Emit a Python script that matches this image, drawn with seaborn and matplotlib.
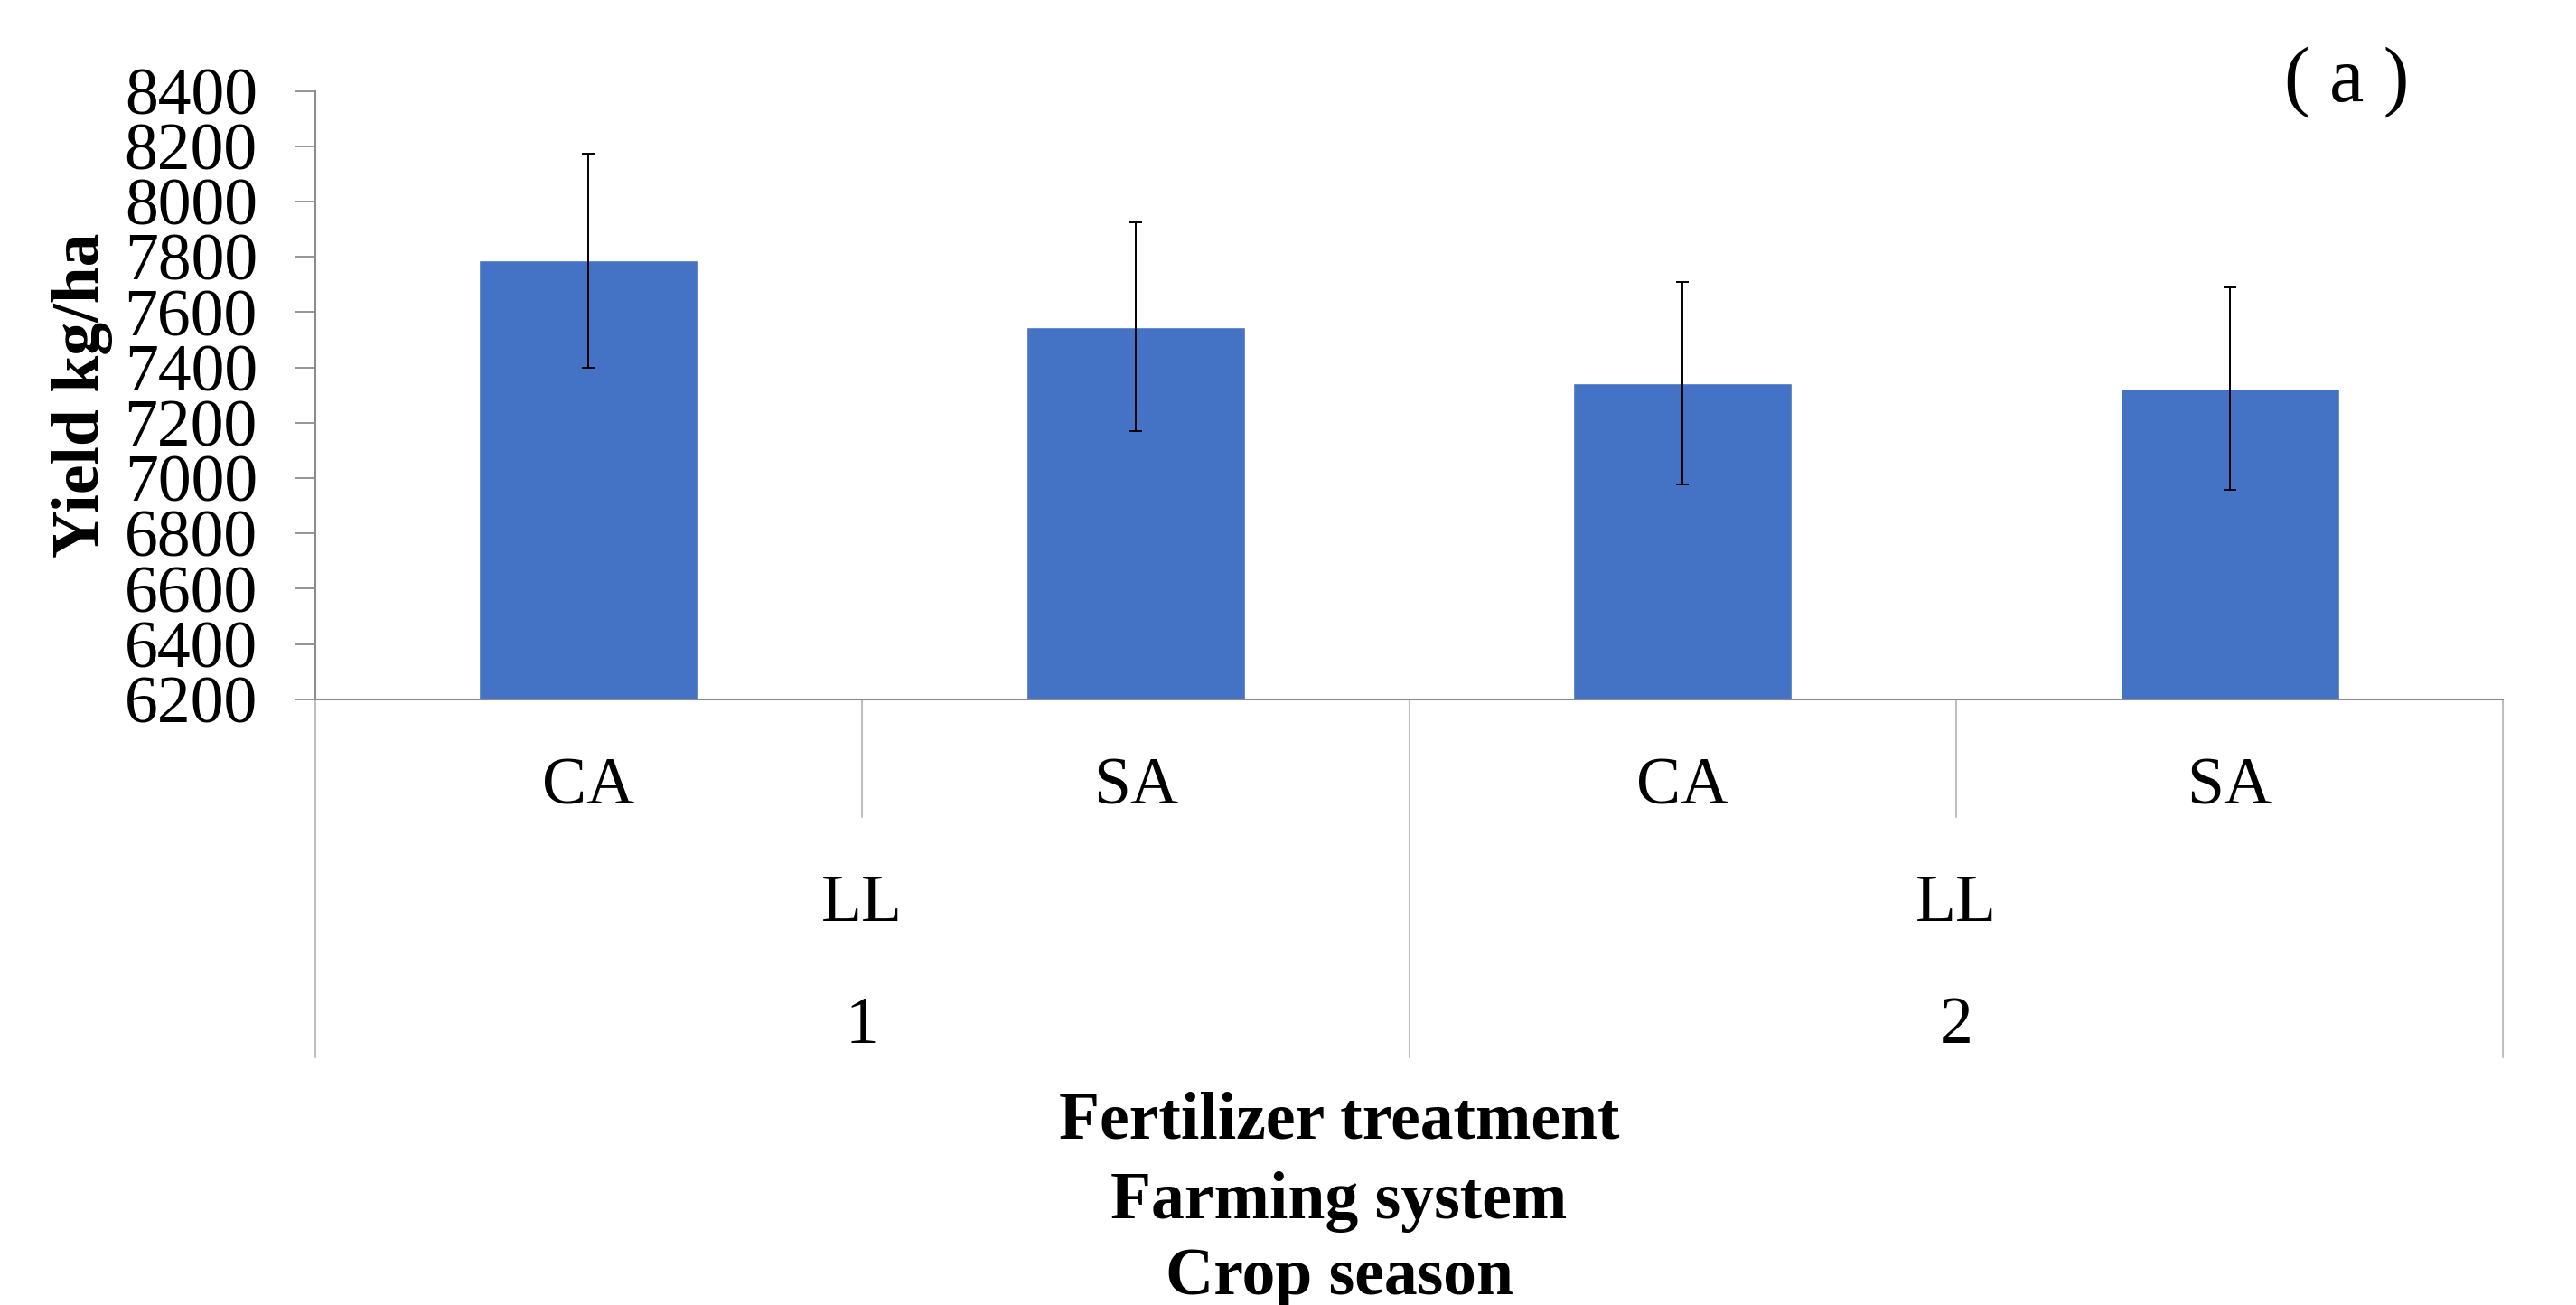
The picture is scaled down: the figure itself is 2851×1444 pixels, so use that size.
import matplotlib
matplotlib.use("Agg")
import matplotlib.pyplot as plt
import pandas as pd
import seaborn as sns
from matplotlib.lines import Line2D
from matplotlib.transforms import blended_transform_factory

# Grain yield by fertilizer treatment, farming system and crop season
treatment = ["CA", "SA", "CA", "SA"]
farming_system = ["LL", "LL", "LL", "LL"]
crop_season = ["1", "1", "2", "2"]
yield_mean = [7787, 7547, 7343, 7323]
yield_err = [388, 378, 367, 366]
y_ticks = [6200, 6400, 6600, 6800, 7000, 7200, 7400, 7600, 7800, 8000, 8200, 8400]

df = pd.DataFrame({
    "key": [f"{s}-{f}-{t}" for s, f, t in zip(crop_season, farming_system, treatment)],
    "treatment": treatment,
    "system": farming_system,
    "season": crop_season,
    "yield": yield_mean,
    "err": yield_err,
})

sns.set_style("ticks")
plt.rcParams["font.family"] = ["Liberation Serif", "DejaVu Serif"]
plt.rcParams["text.color"] = "black"
plt.rcParams["axes.labelcolor"] = "black"
plt.rcParams["ytick.labelcolor"] = "black"

W, H = 2851, 1444
fig = plt.figure(figsize=(W / 100, H / 100), dpi=100)
ax_l, ax_r, ax_t, ax_b = 348.7, 2770.3, 100.7, 773.7
ax = fig.add_axes([ax_l / W, 1 - ax_b / H, (ax_r - ax_l) / W, (ax_b - ax_t) / H])

BLUE = "#4472C4"
AXIS_GRAY = "#8C8C8C"
SEP_GRAY = "#BFBFBF"
FS = 53

sns.barplot(data=df, x="key", y="yield", order=list(df["key"]), color=BLUE,
            saturation=1, width=0.4, errorbar=None, ax=ax, zorder=2)
ax.errorbar(range(len(df)), df["yield"], yerr=df["err"], fmt="none",
            ecolor="black", elinewidth=1.4, capsize=4.8, capthick=1.4, zorder=3)

ax.set_ylim(y_ticks[0], y_ticks[-1])
ax.set_yticks(y_ticks)
ax.set_yticklabels([str(v) for v in y_ticks], fontsize=FS, color="black")
ax.set_xlim(-0.5, len(df) - 0.5)
ax.set_xticks([])
ax.set_xlabel("")
ax.set_ylabel("")

for side in ("top", "right"):
    ax.spines[side].set_visible(False)
for side in ("left", "bottom"):
    ax.spines[side].set_color(AXIS_GRAY)
    ax.spines[side].set_linewidth(1.5)
ax.tick_params(axis="y", length=16, width=1.3, color=AXIS_GRAY, pad=30, labelcolor="black")

# Multi-level category axis
trans = blended_transform_factory(ax.transData, ax.transAxes)
y_short, y_long = -0.194, -0.589
n = len(df)
for i in range(n + 1):
    x = i - 0.5
    long_line = i == 0 or i == n or crop_season[i] != crop_season[i - 1]
    ax.add_line(Line2D([x, x], [0, y_long if long_line else y_short], transform=trans,
                       color=SEP_GRAY, lw=1.5, clip_on=False, zorder=1))

for i, t in enumerate(treatment):
    ax.text(i, -0.145, t, transform=trans, ha="center", va="center", fontsize=FS,
            color="black")

groups = []
for i, s in enumerate(crop_season):
    if not groups or groups[-1][0] != s:
        groups.append([s, farming_system[i], i, i])
    else:
        groups[-1][3] = i
for s, f, i0, i1 in groups:
    xc = (i0 + i1) / 2
    ax.text(xc, -0.338, f, transform=trans, ha="center", va="center", fontsize=FS,
            color="black")
    ax.text(xc, -0.539, s, transform=trans, ha="center", va="center", fontsize=FS,
            color="black")

# Axis titles
for txt, yy in zip(["Fertilizer treatment", "Farming system", "Crop season"],
                   [-0.695, -0.826, -0.952]):
    ax.text(0.468, yy, txt, transform=ax.transAxes, ha="center", va="center",
            fontsize=FS, fontweight="bold", color="black")
ax.text(-0.1064, 0.5, "Yield kg/ha", transform=ax.transAxes, rotation=90,
        ha="center", va="center", fontsize=FS, fontweight="bold", color="black")

# Panel label
fig.text(2597 / W, 1 - 91 / H, "( a )", ha="center", va="center", fontsize=62,
         color="black")

fig.savefig("out.png", dpi=100, facecolor="white")
